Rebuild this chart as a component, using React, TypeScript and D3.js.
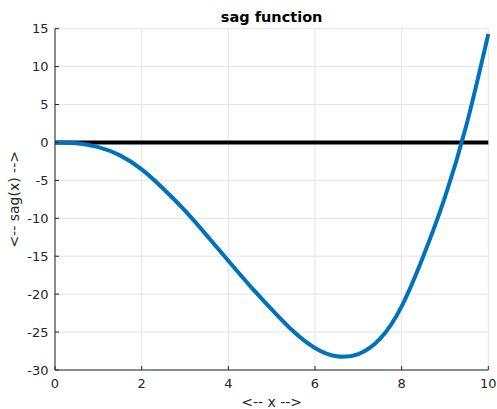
import React from "react";
import * as d3 from "d3";

const xValues = [0, 0.5, 1, 1.5, 2, 2.5, 3, 3.5, 4, 4.5, 5, 5.5, 6, 6.5, 7, 7.5, 8, 8.5, 9, 9.5, 10];
const sagValues = [0, -0.1, -0.62, -1.7, -3.55, -6.1, -9.0, -12.25, -15.6, -18.9, -22.0, -24.9, -27.1, -28.2, -27.9, -25.9, -21.6, -15.0, -7.2, 2.4, 14.3];
const xTicks = [0, 2, 4, 6, 8, 10];
const yTicks = [15, 10, 5, 0, -5, -10, -15, -20, -25, -30];
const title = "sag function";
const xLabel = "<-- x -->";
const yLabel = "<-- sag(x) -->";

export default function App() {
  const W = 497, H = 409;
  const left = 55, right = 488.3, top = 28.7, bottom = 370;
  const x = d3.scaleLinear().domain([0, 10]).range([left, right]);
  const y = d3.scaleLinear().domain([-30, 15]).range([bottom, top]);
  const pts = xValues.map((v, i) => [v, sagValues[i]] as [number, number]);
  const line = d3.line<[number, number]>().x(d => x(d[0])).y(d => y(d[1])).curve(d3.curveNatural);
  const font = "DejaVu Sans, sans-serif";
  const tc = "#262626";
  return (
    <svg width={W} height={H} style={{ position: "absolute", left: 0, top: 0, background: "#fff" }}>
      <rect x={0} y={0} width={W} height={H} fill="#fff" />
      {xTicks.map(t => (
        <line key={"gx" + t} x1={x(t)} x2={x(t)} y1={top} y2={bottom} stroke="#e3e3e3" strokeWidth={1} />
      ))}
      {yTicks.map(t => (
        <line key={"gy" + t} x1={left} x2={right} y1={y(t)} y2={y(t)} stroke="#e3e3e3" strokeWidth={1} />
      ))}
      <line x1={x(0)} x2={x(10)} y1={y(0)} y2={y(0)} stroke="#000" strokeWidth={4} />
      <path d={line(pts) || ""} fill="none" stroke="#0072BD" strokeWidth={4} strokeLinejoin="round" />
      <line x1={left} x2={left} y1={top} y2={bottom} stroke={tc} strokeWidth={1} />
      <line x1={left} x2={right} y1={bottom} y2={bottom} stroke={tc} strokeWidth={1} />
      {xTicks.map(t => (
        <g key={"tx" + t}>
          <line x1={x(t)} x2={x(t)} y1={bottom} y2={bottom - 4} stroke={tc} strokeWidth={1} />
          <text x={x(t)} y={388} textAnchor="middle" fontFamily={font} fontSize={13} fill={tc}>{t}</text>
        </g>
      ))}
      {yTicks.map(t => (
        <g key={"ty" + t}>
          <line x1={left} x2={left + 4} y1={y(t)} y2={y(t)} stroke={tc} strokeWidth={1} />
          <text x={48.5} y={y(t)} dy="0.35em" textAnchor="end" fontFamily={font} fontSize={13} fill={tc}>{t}</text>
        </g>
      ))}
      <text x={(left + right) / 2} y={22} textAnchor="middle" fontFamily={font} fontSize={14.5} fontWeight="bold" fill="#000">{title}</text>
      <text x={(left + right) / 2} y={407} textAnchor="middle" fontFamily={font} fontSize={14} fill={tc}>{xLabel}</text>
      <text transform={`translate(19,${(top + bottom) / 2}) rotate(-90)`} textAnchor="middle" fontFamily={font} fontSize={14} fill={tc}>{yLabel}</text>
    </svg>
  );
}
